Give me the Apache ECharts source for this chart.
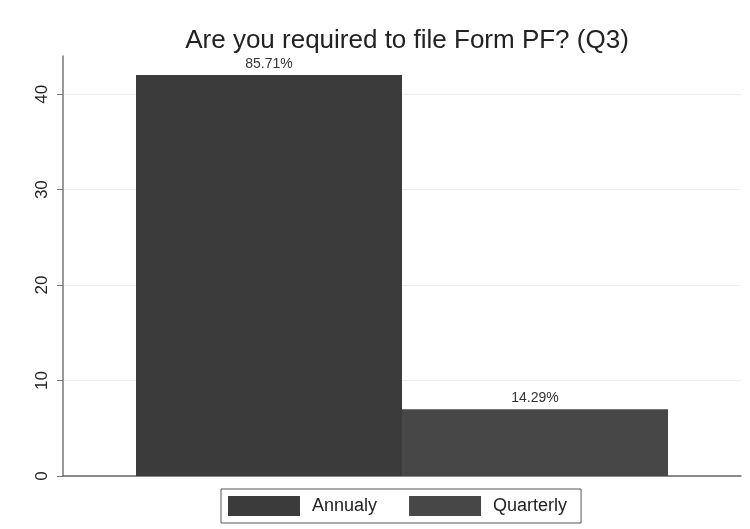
<!DOCTYPE html>
<html lang="en">
<head>
  <meta charset="UTF-8">
  <title>Are you required to file Form PF? (Q3)</title>
  <script src="https://cdn.jsdelivr.net/npm/echarts@6/dist/echarts.min.js"></script>
  <style>
    html, body { margin: 0; padding: 0; background: #fff; }
    #chart { width: 750px; height: 529px; }
  </style>
</head>
<body>
  <div id="chart"></div>
  <script>
    // data
    const seriesNames = ['Annualy', 'Quarterly'];
    const counts = [42, 7];
    const pctLabels = ['85.71%', '14.29%'];
    const yTicks = [0, 10, 20, 30, 40];

    const colors = ['#3b3b3b', '#474747'];
    const font = 'Liberation Sans, Arial, sans-serif';

    let chart = echarts.init(document.getElementById('chart'));

    const option = {
      backgroundColor: '#fff',
      animation: false,
      title: {
        text: 'Are you required to file Form PF? (Q3)',
        left: 402,
        textAlign: 'center',
        top: 23,
        textStyle: { fontFamily: font, fontSize: 26, fontWeight: 'normal', color: '#222' }
      },
      legend: {
        left: 221,
        top: 489,
        itemWidth: 72,
        itemHeight: 20,
        itemGap: 32,
        padding: [7, 14, 7, 7],
        borderColor: '#555',
        borderWidth: 1,
        icon: 'rect',
        textStyle: { fontFamily: font, fontSize: 18, color: '#222', padding: [0, 0, 0, 7] },
        data: seriesNames
      },
      grid: { left: 63, right: 9, top: 56, bottom: 53, containLabel: false },
      xAxis: {
        type: 'category',
        data: [''],
        axisLine: { lineStyle: { color: '#666', width: 1.5 } },
        axisTick: { show: false },
        axisLabel: { show: false }
      },
      yAxis: {
        type: 'value',
        min: 0,
        max: 44,
        interval: 10,
        axisLine: { show: true, lineStyle: { color: '#777', width: 1.5 } },
        axisTick: { show: true, length: 6, lineStyle: { color: '#777' }, customValues: yTicks },
        axisLabel: {
          rotate: 90,
          margin: 12,
          fontFamily: font,
          fontSize: 17,
          color: '#222',
          customValues: yTicks
        },
        splitLine: { lineStyle: { color: '#eeeeee', width: 1 } }
      },
      series: seriesNames.map((name, i) => ({
        name: name,
        type: 'bar',
        barWidth: 266,
        barGap: '0%',
        itemStyle: { color: colors[i] },
        label: {
          show: true,
          position: 'top',
          distance: 4,
          fontFamily: font,
          fontSize: 14,
          color: '#333',
          formatter: () => pctLabels[i]
        },
        data: [counts[i]]
      }))
    };

    chart.setOption(option);
  </script>
</body>
</html>
